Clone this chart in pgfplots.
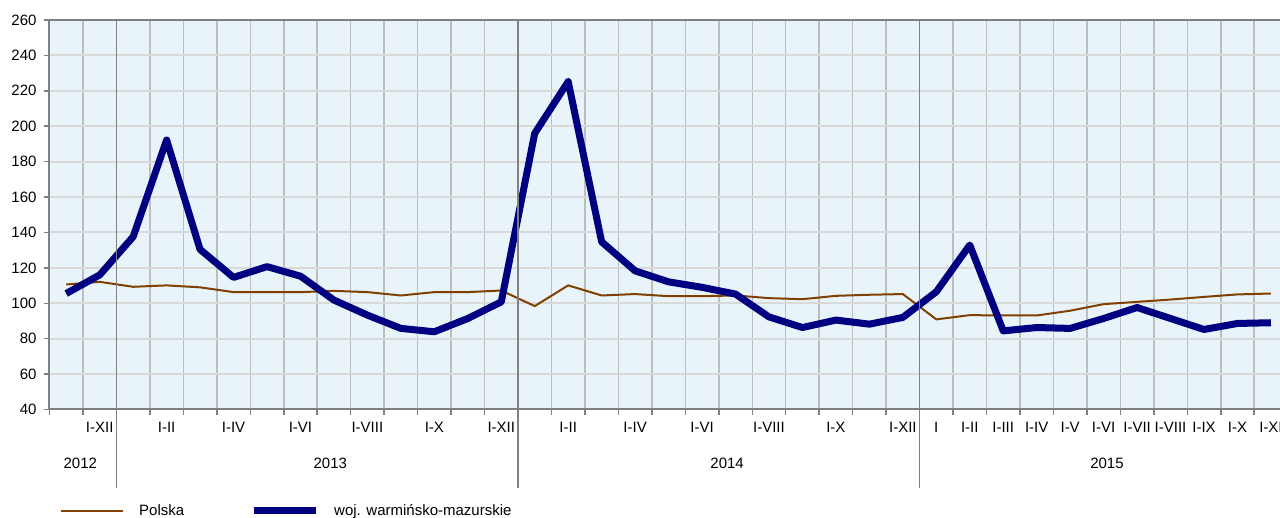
\documentclass[border=0pt]{standalone}
\usepackage{fontspec}
\setmainfont{Liberation Sans}
\usepackage{pgfplots}
\usepackage{pgfplotstable}
\pgfplotsset{compat=1.18}
\definecolor{bgblue}{RGB}{232,243,250}
\definecolor{hgrid}{RGB}{217,217,217}
\definecolor{vgrid}{RGB}{190,190,190}
\definecolor{axgray}{RGB}{128,128,128}
\definecolor{plbrown}{RGB}{128,64,0}
\definecolor{wmnavy}{RGB}{0,0,128}

\pgfplotstableread{
idx pl wm
0 110.6 105.5
1 112.1 116.0
2 109.3 137.6
3 110.1 192.2
4 109.0 130.4
5 106.3 114.6
6 106.3 120.7
7 106.3 115.3
8 107.0 101.8
9 106.3 93.3
10 104.4 85.8
11 106.3 83.9
12 106.3 91.4
13 107.2 100.8
14 98.4 196.0
15 110.1 225.2
16 104.4 134.7
17 105.2 118.3
18 104.0 112.1
19 104.0 109.0
20 104.4 105.2
21 102.9 92.3
22 102.3 86.3
23 104.2 90.5
24 104.8 88.2
25 105.2 92.0
26 90.9 106.5
27 93.3 132.9
28 93.1 84.4
29 93.1 86.3
30 95.8 85.8
31 99.5 91.4
32 100.8 97.6
33 102.1 91.4
34 103.6 85.2
35 105.0 88.6
36 105.5 89.0
}\datatable

\begin{document}
\begin{tikzpicture}
\begin{axis}[
  scale only axis, width=1230.5pt, height=389.5pt,
  at={(0,0)}, anchor=south west,
  xmin=-0.5, xmax=36.27, ymin=40, ymax=260,
  axis background/.style={fill=bgblue},
  axis x line*=bottom, axis y line*=left,
  axis line style={draw=axgray, line width=2pt, -},
  ytick={40,60,...,260},
  ymajorgrids, major grid style={draw=hgrid, line width=2pt},
  xtick={0,...,36},
  xticklabels={{},I-XII,{},I-II,{},I-IV,{},I-VI,{},I-VIII,{},I-X,{},I-XII,{},I-II,{},I-IV,{},I-VI,{},I-VIII,{},I-X,{},I-XII,I,I-II,I-III,I-IV,I-V,I-VI,I-VII,I-VIII,I-IX,I-X,I-XI},
  minor xtick={-0.5,0.5,...,35.5},
  xminorgrids, minor grid style={draw=vgrid, line width=1.5pt},
  tick align=outside,
  major tick length=5.5pt, minor tick length=5.5pt,
  every major x tick/.append style={draw=none},
  tick style={draw=axgray, line width=1.5pt},
  ticklabel style={font=\fontsize{15}{18}\selectfont},
  yticklabel style={xshift=-4pt},
  xticklabel style={yshift=-4pt},
  /pgf/number format/assume math mode=true,
  clip=false,
  legend columns=2,
  legend image code/.code={\draw[#1] (0pt,0pt) -- (62pt,0pt);},
  legend style={draw=none, fill=none, at={(0,0)}, anchor=west, xshift=10.5pt, yshift=-101.5pt,
    inner sep=0pt, font=\fontsize{15}{18}\selectfont, legend cell align=left,
    /tikz/every odd column/.append style={column sep=13pt},
    /tikz/every even column/.append style={column sep=64pt}},
]
\addplot[plbrown, line width=2pt, line join=round] table[x=idx, y=pl] {\datatable};
\addlegendentry{Polska}
\addplot[wmnavy, line width=7pt, line join=round] table[x=idx, y=wm] {\datatable};
\addlegendentry{woj. warmińsko-mazurskie}
\draw[axgray, line width=2pt] (rel axis cs:0,1) -- (rel axis cs:1,1);
\draw[axgray, line width=1.5pt] (axis cs:1.5,260) -- (axis cs:1.5,40) -- ++(0pt,-78.5pt);
\draw[axgray, line width=1.5pt] (axis cs:13.5,260) -- (axis cs:13.5,40) -- ++(0pt,-78.5pt);
\draw[axgray, line width=1.5pt] (axis cs:25.5,260) -- (axis cs:25.5,40) -- ++(0pt,-78.5pt);
\node[font=\fontsize{15}{18}\selectfont] at (axis cs:0.42,40) [yshift=-53.5pt] {2012};
\node[font=\fontsize{15}{18}\selectfont] at (axis cs:7.89,40) [yshift=-53.5pt] {2013};
\node[font=\fontsize{15}{18}\selectfont] at (axis cs:19.75,40) [yshift=-53.5pt] {2014};
\node[font=\fontsize{15}{18}\selectfont] at (axis cs:31.1,40) [yshift=-53.5pt] {2015};
\end{axis}
\pgfresetboundingbox
\path[use as bounding box] (current axis.south west) ++(-49.5pt,-108.5pt) rectangle ++(1280pt,518pt);
\end{tikzpicture}
\end{document}
